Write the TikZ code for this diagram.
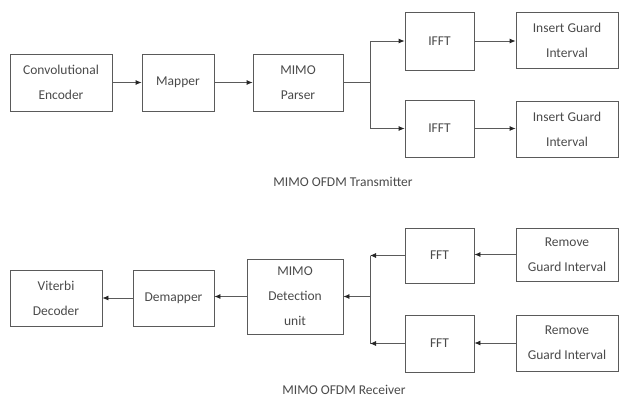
\documentclass[tikz,border=0pt]{standalone}
\usepackage{fontspec}
\setmainfont{Carlito}
\usetikzlibrary{arrows.meta}
\definecolor{linec}{HTML}{5A5A5A}
\definecolor{textc}{HTML}{4A4A4A}
\begin{document}
\begin{tikzpicture}[x=1pt,y=-1pt,
  blk/.style={draw=linec,line width=0.8pt,rectangle,inner sep=0pt,align=center,
    text=textc,font=\fontsize{13.5}{25}\selectfont},
  conn/.style={draw=linec,line width=0.8pt},
  arr/.style={conn,-{Latex[length=6pt,width=5pt,color=black!85]}},
  captext/.style={text=textc,font=\fontsize{13.5}{16}\selectfont}]
\useasboundingbox (0,0) rectangle (620,407);
% transmitter
\node[blk,minimum width=102,minimum height=57] (conv) at (61,82.5) {Convolutional\\Encoder};
\node[blk,minimum width=72,minimum height=57] (map) at (178,82.5) {Mapper};
\node[blk,minimum width=90,minimum height=57] (par) at (298,82.5) {MIMO\\Parser};
\node[blk,minimum width=69,minimum height=58] (ifft1) at (439.5,41) {IFFT};
\node[blk,minimum width=69,minimum height=57] (ifft2) at (439.5,128.5) {IFFT};
\node[blk,minimum width=102,minimum height=56] (igi1) at (567,40) {Insert Guard\\Interval};
\node[blk,minimum width=102,minimum height=56] (igi2) at (567,129) {Insert Guard\\Interval};
\node[captext] (txcap) at (343,182) {MIMO OFDM Transmitter};
\draw[arr] (conv.east) -- (map.west);
\draw[arr] (map.east) -- (par.west);
\coordinate (tj) at (370,82.5);
\draw[conn] (par.east) -- (tj);
\draw[arr] (tj) |- (ifft1.west);
\draw[arr] (tj) |- (ifft2.west);
\draw[arr] (ifft1.east) -- (ifft1.east -| igi1.west);
\draw[arr] (ifft2.east) -- (ifft2.east -| igi2.west);
% receiver
\node[blk,minimum width=92,minimum height=56] (vit) at (56,298) {Viterbi\\Decoder};
\node[blk,minimum width=81,minimum height=56] (dem) at (173.5,298) {Demapper};
\node[blk,minimum width=96,minimum height=75] (det) at (295,296.5) {MIMO\\Detection\\unit};
\node[blk,minimum width=69,minimum height=55] (fft1) at (439.5,255.5) {FFT};
\node[blk,minimum width=69,minimum height=57] (fft2) at (439.5,343.5) {FFT};
\node[blk,minimum width=102,minimum height=53] (rgi1) at (567,254.5) {Remove\\Guard Interval};
\node[blk,minimum width=102,minimum height=56] (rgi2) at (567,343) {Remove\\Guard Interval};
\node[captext] (rxcap) at (344,390) {MIMO OFDM Receiver};
\coordinate (rj) at (370,296.5);
\draw[arr] (rgi1.west) -- (rgi1.west -| fft1.east);
\draw[arr] (rgi2.west) -- (rgi2.west -| fft2.east);
\draw[arr] (fft1.west) -- (fft1.west -| rj);
\draw[arr] (fft2.west) -- (fft2.west -| rj);
\draw[conn] (fft1.west -| rj) -- (fft2.west -| rj);
\draw[arr] (rj) -- (det.east);
\draw[arr] (det.west) -- (det.west -| dem.east);
\draw[arr] (dem.west) -- (vit.east);
\end{tikzpicture}
\end{document}
